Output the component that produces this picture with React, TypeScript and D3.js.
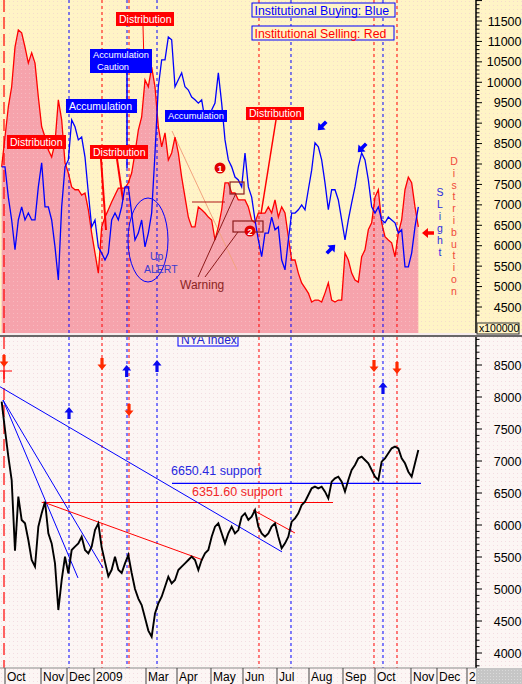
import React from "react";
import * as d3 from "d3";

// ---------- DATA (one sample ≈ every 2.3 sessions, Oct 2008 – Nov 2009) ----------
const sellingRed = [
  7930, 8660, 9400, 9890, 10860, 11280, 11210, 10860, 10470, 10720,
  10470, 9640, 8910, 8660, 8340, 8170, 8520, 9570, 9080, 8030,
  7780, 7440, 7370, 7370, 7240, 7290, 6880, 6310, 5820, 5330,
  6460, 6700, 6880, 7070, 7240, 7410, 7410, 7410, 7540, 7780,
  8270, 8830, 9150, 10060, 9890, 10370, 9890, 8910, 8420, 8760,
  8100, 8270, 8660, 8270, 7680, 7190, 6700, 6460, 6460, 6950,
  6880, 6800, 6700, 6630, 6140, 6460, 6880, 7540, 7540, 7290,
  7290, 7120, 7120, 7120, 6950, 6630, 6560, 6800, 6800, 6800,
  6950, 6800, 7120, 6700, 6950, 6800, 6220, 5650, 5650, 5330,
  5090, 4970, 4840, 4620, 4670, 4670, 4620, 4840, 5090, 4670,
  4620, 4670, 4670, 5820, 5650, 5330, 5160, 5110, 5730, 5900,
  6390, 6560, 7190, 7370, 6560, 6220, 6140, 6070, 5730, 6310,
  6630, 7370, 7680, 7540, 6950, 6460,
];

const buyingBlue = [
  7930, 7930, 7190, 6630, 5900, 6630, 6950, 6630, 6800, 6630,
  6630, 7440, 8030, 6950, 6950, 6630, 5970, 5160, 6950, 7930,
  8100, 9080, 8910, 8590, 8660, 8170, 7290, 6460, 6630, 5970,
  5820, 5650, 5820, 6630, 6800, 6630, 6950, 7440, 7440, 6800,
  6140, 6310, 6630, 5970, 6310, 6800, 8270, 9890, 10550, 10550,
  11110, 11040, 9890, 10060, 10230, 9890, 9810, 9640, 9570, 9490,
  9570, 9080, 9150, 9320, 9490, 10230, 9490, 8590, 8100, 7930,
  7680, 7610, 7440, 8270, 7440, 7190, 6630, 6140, 5730, 6310,
  6310, 6700, 6390, 6460, 5650, 5410, 6140, 6800, 6800, 6880,
  7000, 6880, 7370, 7850, 8520, 8420, 8100, 7540, 6880, 7370,
  7370, 7120, 6630, 6140, 6630, 7050, 7440, 7930, 8270, 8100,
  7610, 6950, 6800, 6950, 6630, 6560, 6700, 6630, 6560, 6310,
  6390, 5480, 5480, 5820, 6460, 6950,
];

const nyaIndex = [
  7927, 7485, 7068, 6703, 5600, 6443, 6078, 6026, 5765, 5453,
  5349, 5974, 6182, 6364, 5870, 5713, 5400, 4671, 5140, 5505,
  5244, 5609, 5661, 5713, 5817, 5609, 5557, 5661, 5921, 6026,
  5650, 5420, 5200, 5300, 5505, 5300, 5250, 5400, 5531, 5250,
  5000, 4850, 4750, 4550, 4350, 4255, 4619, 4775, 4880, 5036,
  5192, 5088, 5140, 5296, 5349, 5401, 5453, 5505, 5453, 5296,
  5453, 5557, 5609, 5817, 5974, 6026, 5870, 5713, 5870, 5974,
  5870, 5921, 6130, 6182, 6078, 6130, 6234, 5974, 5870, 5817,
  5870, 5974, 6026, 5817, 5635, 5713, 5817, 6052, 6104, 6182,
  6312, 6364, 6469, 6573, 6599, 6573, 6599, 6521, 6416, 6677,
  6729, 6755, 6677, 6521, 6703, 6859, 6937, 7042, 7068, 7016,
  6964, 6859, 6755, 6703, 6990, 7042, 7120, 7198, 7224, 7198,
  7042, 6964, 6833, 6755, 6964, 7172,
];

const monthLabels = ["Oct", "Nov", "Dec", "2009", "Mar", "Apr", "May", "Jun", "Jul", "Aug", "Sep", "Oct", "Nov", "Dec", "2"];
const monthStarts = [1.0, 11.8, 19.6, 27.7, 43.3, 52.6, 62.8, 72.4, 82.6, 92.2, 102.4, 112.0, 122.8, 130.6, 139.6];

const firstSellSignal = 0.7;
const buySignals = [20.2, 37.6, 46.6, 86.8, 114.4];
const sellSignals = [30.1, 38.2, 77.2, 111.7, 118.6];

const nyaArrows = [
  { at: 0.7, v: 8656, dir: "down" },
  { at: 30.1, v: 8609, dir: "down" },
  { at: 37.5, v: 8500, dir: "up" },
  { at: 46.6, v: 8578, dir: "up" },
  { at: 20.2, v: 7844, dir: "up" },
  { at: 38.2, v: 7891, dir: "down" },
  { at: 111.7, v: 8578, dir: "down" },
  { at: 114.4, v: 8234, dir: "up" },
  { at: 118.6, v: 8547, dir: "down" },
];

const support1 = 6650.41;
const support2 = 6351.6;

const topTickLabels = d3.range(4500, 11501, 500);
const botTickLabels = d3.range(4000, 8501, 500);

// trend lines on NYA panel: [at1, v1, at2, v2]
const blueTrends = [
  [-0.5, 8160, 84.1, 5580],
  [0.4, 7953, 22.9, 5172],
  [0.4, 7953, 30.4, 5328],
];
const redTrends = [
  [12.4, 6360, 60.4, 5453],
  [75.4, 6234, 88.0, 5875],
];

const FONT = "'Liberation Sans', Arial, Helvetica, sans-serif";

function vArrow(cx: number, top: number, dir: string) {
  if (dir === "up")
    return `M${cx},${top} L${cx + 4.5},${top + 5.5} L${cx + 1.6},${top + 5.5} L${cx + 1.6},${top + 12} L${cx - 1.6},${top + 12} L${cx - 1.6},${top + 5.5} L${cx - 4.5},${top + 5.5}Z`;
  return `M${cx},${top + 12} L${cx + 4.5},${top + 6.5} L${cx + 1.6},${top + 6.5} L${cx + 1.6},${top} L${cx - 1.6},${top} L${cx - 1.6},${top + 6.5} L${cx - 4.5},${top + 6.5}Z`;
}
const fatArrow = "M-6,-1.8 L0,-1.8 L0,-5 L6,0 L0,5 L0,1.8 L-6,1.8Z";

export default function App() {
  const TOP_B = 333;
  const AX = 476;
  const BOT_T = 337;
  const BOT_B = 668;

  const x = d3.scaleLinear().domain([0, 125]).range([1.67, 418.33]);
  const yT = d3.scaleLinear().domain([4500, 11500]).range([307, 21]);
  const yB = d3.scaleLinear().domain([4000, 8500]).range([653, 365]);

  const area = d3.area<number>().x((_, i) => x(i)).y0(TOP_B).y1((d) => yT(d));
  const lineT = d3.line<number>().x((_, i) => x(i)).y((d) => yT(d));
  const lineB = d3.line<number>().x((_, i) => x(i)).y((d) => yB(d));

  const topMinor = d3.range(4300, 12101, 100).filter((v) => yT(v) >= 0 && yT(v) <= TOP_B);
  const botMinor = d3.range(3800, 9001, 100).filter((v) => yB(v) >= BOT_T && yB(v) <= BOT_B);

  const labelBox = (bx: number, by: number, w: number, h: number, fill: string, lines: string[], fs: number, key: string, offs: number[] = []) => (
    <g key={key}>
      <rect x={bx} y={by} width={w} height={h} fill={fill} />
      {lines.map((t, k) => (
        <text key={k} x={bx + (offs[k] ?? 3)} y={by + h / lines.length * (k + 1) - (h / lines.length - fs * 0.72) / 2} fontSize={fs} fill="#fff" fontFamily={FONT}>
          {t}
        </text>
      ))}
    </g>
  );

  return (
    <svg width={522} height={684} style={{ position: "absolute", left: 0, top: 0 }} fontFamily={FONT}>
      <defs>
        <pattern id="dotY" width="4" height="4" patternUnits="userSpaceOnUse">
          <rect width="4" height="4" fill="#FFF4C6" />
          <rect x="1" y="1" width="1" height="1" fill="#F6DCCB" />
        </pattern>
        <pattern id="dotP" width="4" height="4" patternUnits="userSpaceOnUse">
          <rect width="4" height="4" fill="#F6A3AC" />
          <rect x="1" y="1" width="1" height="1" fill="#F8B9BF" />
        </pattern>
        <pattern id="dotW" width="4" height="4" patternUnits="userSpaceOnUse">
          <rect width="4" height="4" fill="#FCF6F4" />
          <rect x="1" y="1" width="1" height="1" fill="#F3DCE2" />
        </pattern>
        <pattern id="dotG" width="3" height="3" patternUnits="userSpaceOnUse">
          <rect width="3" height="3" fill="#C6C6C6" />
          <rect x="1" y="1" width="1" height="1" fill="#DADADA" />
        </pattern>
        <clipPath id="clipTop">
          <rect x={0} y={0} width={AX} height={TOP_B} />
        </clipPath>
        <clipPath id="clipBot">
          <rect x={0} y={BOT_T} width={AX} height={BOT_B - BOT_T} />
        </clipPath>
      </defs>

      {/* backgrounds */}
      <rect x={0} y={0} width={522} height={TOP_B} fill="url(#dotY)" />
      <rect x={0} y={BOT_T} width={522} height={684 - BOT_T} fill="url(#dotW)" />
      <rect x={0} y={TOP_B} width={522} height={BOT_T - TOP_B} fill="#F7EDED" />

      {/* ================= TOP PANEL ================= */}
      <g clipPath="url(#clipTop)">
        <path d={area(sellingRed) || ""} fill="url(#dotP)" />
        {/* signal lines */}
        <line x1={x(firstSellSignal)} x2={x(firstSellSignal)} y1={0} y2={TOP_B} stroke="#FF0000" strokeWidth={1.2} strokeDasharray="12,5" />
        {buySignals.map((s, k) => (
          <line key={"tb" + k} x1={x(s)} x2={x(s)} y1={0} y2={TOP_B} stroke="#0000FF" strokeWidth={1} strokeDasharray="3,3" />
        ))}
        {sellSignals.map((s, k) => (
          <line key={"ts" + k} x1={x(s)} x2={x(s)} y1={0} y2={TOP_B} stroke="#FF0000" strokeWidth={1} strokeDasharray="3,3" />
        ))}

        {/* annotation lines */}
        <line x1={172} y1={131} x2={237} y2={270} stroke="#F2A27E" strokeWidth={1} />
        <line x1={192} y1={202} x2={225} y2={202} stroke="#B01818" strokeWidth={1.2} />
        <line x1={143} y1={26} x2={144} y2={64} stroke="#FF0000" strokeWidth={1} />
        <line x1={276} y1={120} x2={261} y2={214} stroke="#FF0000" strokeWidth={1.5} />
        <line x1={101} y1={159} x2={106} y2={230} stroke="#FF0000" strokeWidth={2} />
        <line x1={117} y1={159} x2={123} y2={200} stroke="#FF0000" strokeWidth={2} />
        <line x1={127} y1={73} x2={127} y2={168} stroke="#0000FF" strokeWidth={1.5} />

        <path d={lineT(sellingRed) || ""} fill="none" stroke="#FF0000" strokeWidth={1.3} />
        <path d={lineT(buyingBlue) || ""} fill="none" stroke="#0000FF" strokeWidth={1.3} />

        {/* Up alert ellipse */}
        <ellipse cx={148} cy={240} rx={20} ry={42} fill="none" stroke="#0000FF" strokeWidth={1} />
        <text x={150} y={260} fontSize={10.5} fill="#3A3AD0">Up</text>
        <text x={144} y={273} fontSize={10.5} fill="#3A3AD0">ALERT</text>

        {/* warning */}
        <rect x={230} y={182} width={14} height={12} fill="none" stroke="#8B1A1A" strokeWidth={1.2} />
        <rect x={233} y={221} width={30} height={11} fill="none" stroke="#8B1A1A" strokeWidth={1.2} />
        <line x1={198} y1={277} x2={236} y2={193} stroke="#8B1A1A" strokeWidth={1} />
        <line x1={205} y1={277} x2={238} y2={232} stroke="#8B1A1A" strokeWidth={1} />
        <text x={180} y={289} fontSize={12} fill="#8B2323">Warning</text>
        <circle cx={220} cy={168} r={5.5} fill="#E00000" />
        <text x={220} y={171.5} fontSize={9} fontWeight="bold" fill="#fff" textAnchor="middle">1</text>
        <circle cx={250} cy={231} r={5.5} fill="#E00000" />
        <text x={250} y={234.5} fontSize={9} fontWeight="bold" fill="#fff" textAnchor="middle">2</text>

        {/* label boxes */}
        {labelBox(7, 135, 59, 14, "#FF0000", ["Distribution"], 10.5, "l1")}
        {labelBox(66, 99, 71, 14, "#0000FF", ["Accumulation"], 10.5, "l2")}
        {labelBox(90, 49, 62, 24, "#0000FF", ["Accumulation", "Caution"], 9.3, "l3", [3, 7])}
        {labelBox(116, 12, 58, 14, "#FF0000", ["Distribution"], 10.5, "l4")}
        {labelBox(90, 145, 58, 14, "#FF0000", ["Distribution"], 10.5, "l5")}
        {labelBox(165, 110, 62, 12, "#0000FF", ["Accumulation"], 9.3, "l6")}
        {labelBox(246, 107, 58, 13, "#FF0000", ["Distribution"], 10.5, "l7")}

        {/* legend */}
        <rect x={252} y={3} width={143} height={14} fill="#FFF4C6" stroke="#0000FF" strokeWidth={1} />
        <text x={254.5} y={14.5} fontSize={12.3} fill="#0000FF">Institutional Buying: Blue</text>
        <rect x={252} y={26} width={142} height={14} fill="#FFF4C6" stroke="#0000FF" strokeWidth={1} />
        <text x={254.5} y={37.5} fontSize={12.3} fill="#FF0000">Institutional Selling: Red</text>

        {/* arrows */}
        <path d={fatArrow} fill="#0000FF" transform={`translate(${x(96.1)},${yT(8931)}) rotate(135)`} />
        <path d={fatArrow} fill="#0000FF" transform={`translate(${x(108.1)},${yT(8392)}) rotate(135)`} />
        <path d={fatArrow} fill="#0000FF" transform={`translate(${x(98.8)},${yT(5921)}) rotate(-45)`} />
        <path d={fatArrow} fill="#FF0000" transform={`translate(${x(127.9)},${yT(6312)}) rotate(180)`} />

        {/* vertical words */}
        {"SLight".split("").map((c, k) => (
          <text key={"sl" + k} x={440} y={196 + k * 12} fontSize={10.5} fill="#2A2AE0" textAnchor="middle">{c}</text>
        ))}
        {"Distribution".split("").map((c, k) => (
          <text key={"ds" + k} x={454} y={165 + k * 11.8} fontSize={10.5} fill="#F04A3A" textAnchor="middle">{c}</text>
        ))}
      </g>

      {/* top axis */}
      <line x1={AX} x2={AX} y1={0} y2={TOP_B} stroke="#000" strokeWidth={1.5} />
      {topMinor.map((v) => (
        <line key={"tm" + v} x1={AX} x2={AX + (v % 500 === 0 ? 6 : 3.5)} y1={yT(v)} y2={yT(v)} stroke="#000" strokeWidth={1} />
      ))}
      {topTickLabels.map((v) => (
        <text key={"tl" + v} x={521.5} y={yT(v) + 4.5} fontSize={12.5} textAnchor="end" fill="#000">{v}</text>
      ))}
      <rect x={477} y={323} width={42} height={11} fill="#FFF4C6" stroke="#333" strokeWidth={1} />
      <text x={479} y={332} fontSize={10.5} fill="#000">x100000</text>

      {/* divider */}
      <line x1={0} x2={522} y1={336} y2={336} stroke="#3A3A3A" strokeWidth={1.5} />

      {/* ================= BOTTOM PANEL ================= */}
      <g clipPath="url(#clipBot)">
        <rect x={178} y={331} width={60} height={15} fill="none" stroke="#0000FF" strokeWidth={1} />
        <text x={181} y={344} fontSize={12} fill="#2323D0">NYA Index</text>

        <line x1={x(firstSellSignal)} x2={x(firstSellSignal)} y1={BOT_T} y2={BOT_B} stroke="#FF0000" strokeWidth={1.2} strokeDasharray="12,5" />
        {buySignals.map((s, k) => (
          <line key={"bb" + k} x1={x(s)} x2={x(s)} y1={BOT_T} y2={BOT_B} stroke="#0000FF" strokeWidth={1} strokeDasharray="3,3" />
        ))}
        {sellSignals.map((s, k) => (
          <line key={"bs" + k} x1={x(s)} x2={x(s)} y1={BOT_T} y2={BOT_B} stroke="#FF0000" strokeWidth={1} strokeDasharray="3,3" />
        ))}
        {/* crosshair */}
        <line x1={0} x2={12} y1={371} y2={371} stroke="#FF0000" strokeWidth={1} />
        <line x1={x(firstSellSignal)} x2={x(firstSellSignal)} y1={357} y2={379} stroke="#FF0000" strokeWidth={1.2} />

        {/* supports */}
        <line x1={x(12.0)} x2={x(99.4)} y1={yB(support2)} y2={yB(support2)} stroke="#FF0000" strokeWidth={1.2} />
        <line x1={x(51.1)} x2={x(125.8)} y1={yB(support1)} y2={yB(support1)} stroke="#0000FF" strokeWidth={1.2} />
        <text x={171} y={475} fontSize={12.5} fill="#2828E0">{support1.toFixed(2) + " support"}</text>
        <text x={192} y={496} fontSize={12.5} fill="#F02828">{support2.toFixed(2) + " support"}</text>

        {blueTrends.map((t, k) => (
          <line key={"bt" + k} x1={x(t[0])} y1={yB(t[1])} x2={x(t[2])} y2={yB(t[3])} stroke="#0000FF" strokeWidth={1} />
        ))}
        {redTrends.map((t, k) => (
          <line key={"rt" + k} x1={x(t[0])} y1={yB(t[1])} x2={x(t[2])} y2={yB(t[3])} stroke="#FF0000" strokeWidth={1} />
        ))}

        <path d={lineB(nyaIndex) || ""} fill="none" stroke="#000" strokeWidth={1.9} strokeLinejoin="miter" />

        {nyaArrows.map((a, k) => (
          <path key={"ar" + k} d={vArrow(x(a.at), yB(a.v), a.dir)} fill={a.dir === "up" ? "#0A0AF0" : "#FF2A00"} />
        ))}
      </g>

      {/* bottom axis */}
      <line x1={AX} x2={AX} y1={BOT_T} y2={BOT_B} stroke="#000" strokeWidth={1.5} />
      {botMinor.map((v) => (
        <line key={"bm" + v} x1={AX} x2={AX + (v % 500 === 0 ? 6 : 3.5)} y1={yB(v)} y2={yB(v)} stroke="#000" strokeWidth={1} />
      ))}
      {botTickLabels.map((v) => (
        <text key={"bl" + v} x={521.5} y={yB(v) + 4.5} fontSize={12.5} textAnchor="end" fill="#000">{v}</text>
      ))}

      {/* x axis labels */}
      <line x1={0} x2={AX} y1={BOT_B} y2={BOT_B} stroke="#888" strokeWidth={1} />
      {monthStarts.map((m, k) => (
        <g key={"mx" + k}>
          <line x1={x(m)} x2={x(m)} y1={BOT_B} y2={684} stroke="#444" strokeWidth={1} />
          <text x={x(m) + 2} y={681} fontSize={12} fill="#000">{monthLabels[k]}</text>
        </g>
      ))}
      <rect x={AX} y={BOT_B} width={522 - AX} height={684 - BOT_B} fill="url(#dotG)" />
    </svg>
  );
}
